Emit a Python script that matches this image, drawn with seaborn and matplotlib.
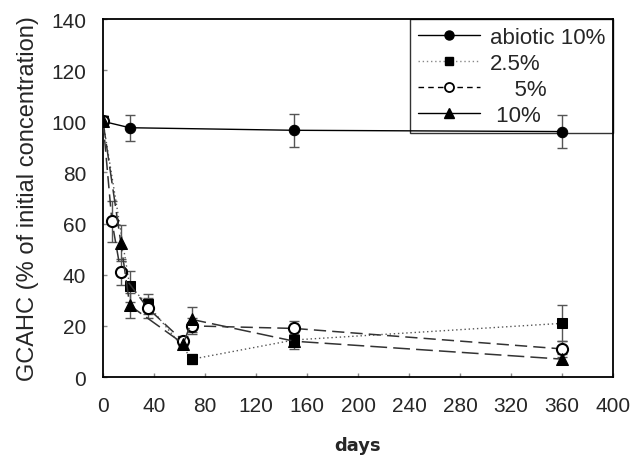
import matplotlib
matplotlib.use("Agg")
import matplotlib.pyplot as plt
import seaborn as sns
import pandas as pd
from matplotlib.lines import Line2D

# ---- data ----
abiotic_days = [0, 21, 150, 360]
abiotic_vals = [100, 97.5, 96.5, 96]
abiotic_err = [2, 5, 6.5, 6.5]

p25_days = [0, 21, 35, 70, 150, 360]
p25_vals = [100, 35.5, 28.5, 7, 14.5, 21]
p25_err = [2, 6, 4, 2, 2, 7]

p5_days = [0, 7, 14, 35, 63, 70, 150, 360]
p5_vals = [100, 61, 41, 27, 14, 20, 19, 11]
p5_err = [2, 8, 5, 4, 2, 3, 3, 3]

p10_days = [0, 14, 21, 63, 70, 150, 360]
p10_vals = [100, 52.5, 28, 13, 22.5, 14, 7]
p10_err = [2, 7, 5, 2, 5, 3, 2]

labels = ["abiotic 10%", "2.5%", "    5%", " 10%"]
x_ticks = [0, 40, 80, 120, 160, 200, 240, 280, 320, 360, 400]
y_ticks = [0, 20, 40, 60, 80, 100, 120, 140]

sns.set_theme(style="ticks")
plt.rcParams["font.family"] = ["Liberation Sans", "DejaVu Sans"]

fig = plt.figure(figsize=(6.38, 4.56), dpi=100)
ax = fig.add_axes([0.1614, 0.171, 0.7996, 0.785])

series = [
    (abiotic_days, abiotic_vals, abiotic_err,
     dict(marker="o", linestyle="-", mfc="black", ms=7.5, lw=1.0, color="black")),
    (p25_days, p25_vals, p25_err,
     dict(marker="s", linestyle=(0, (1, 2)), mfc="black", ms=7.5, lw=1.0, color="#555555")),
    (p5_days, p5_vals, p5_err,
     dict(marker="o", linestyle=(0, (8, 4)), mfc="white", ms=8, lw=1.1, color="#333333", mew=1.5)),
    (p10_days, p10_vals, p10_err,
     dict(marker="^", linestyle=(0, (11, 4)), mfc="black", ms=8, lw=1.1, color="#333333")),
]

for days, vals, errs, kw in series:
    df = pd.DataFrame({"day": days, "value": vals})
    ax.errorbar(days, vals, yerr=errs, fmt="none", ecolor="#555555",
                elinewidth=1.0, capsize=3.5, capthick=1.0, zorder=6)
    sns.lineplot(data=df, x="day", y="value", ax=ax, estimator=None,
                 sort=False, zorder=7, mec="black", **kw)

leg_handles = [
    Line2D([], [], color="black", lw=1.0, marker="o", ms=6.5, mfc="black"),
    Line2D([], [], color="#888888", lw=1.0, linestyle=(0, (1, 2)), marker="s", ms=6, mfc="black", mec="black"),
    Line2D([], [], color="black", lw=1.0, linestyle=(0, (4, 3)), marker="o", ms=6.5, mfc="white", mec="black", mew=1.3),
    Line2D([], [], color="black", lw=1.0, marker="^", ms=6.5, mfc="black"),
]
leg = ax.legend(leg_handles, labels, loc="upper right", fontsize=16,
                frameon=True, fancybox=False, edgecolor="black",
                handlelength=2.8, borderaxespad=0.0, labelspacing=0.22,
                handletextpad=0.45, borderpad=0.35)
leg.get_frame().set_linewidth(1.0)
leg.set_zorder(1)

ax.set_xlim(0, 400)
ax.set_ylim(0, 140)
ax.set_xticks(x_ticks)
ax.set_yticks(y_ticks)
ax.set_xticklabels([str(t) for t in x_ticks])
ax.set_yticklabels([str(t) for t in y_ticks])
ax.tick_params(direction="in", length=3, width=1, labelsize=15, color="#888888")
ax.tick_params(axis="x", pad=14)
ax.tick_params(axis="y", pad=12)
for s in ax.spines.values():
    s.set_visible(True)
    s.set_linewidth(1.3)
    s.set_color("black")

ax.set_xlabel("days", fontsize=13, family="DejaVu Sans", weight="semibold", labelpad=15)
ax.set_ylabel("GCAHC (% of initial concentration)", fontsize=17, labelpad=9)

fig.savefig("out.png", dpi=100)
